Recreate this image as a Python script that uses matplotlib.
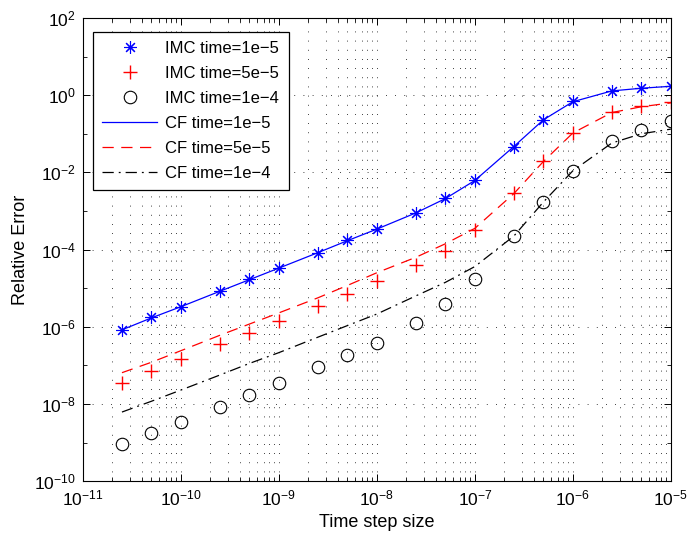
import numpy as np
import matplotlib
matplotlib.use("Agg")
import matplotlib.pyplot as plt
from matplotlib.ticker import LogLocator, NullFormatter, LogFormatterSciNotation

plt.rcParams['font.family'] = ['Liberation Sans', 'DejaVu Sans']
plt.rcParams['mathtext.fontset'] = 'custom'
plt.rcParams['mathtext.rm'] = 'Liberation Sans'
plt.rcParams['mathtext.it'] = 'Liberation Sans:italic'
plt.rcParams['mathtext.bf'] = 'Liberation Sans:bold'

# time step sizes
dt = [2.5e-11, 5e-11, 1e-10, 2.5e-10, 5e-10, 1e-9, 2.5e-9, 5e-9, 1e-8,
      2.5e-8, 5e-8, 1e-7, 2.5e-7, 5e-7, 1e-6, 2.5e-6, 5e-6, 1e-5]

# log10 of relative error
imc_1e5 = [-6.08, -5.76, -5.48, -5.07, -4.77, -4.48, -4.08, -3.76, -3.47,
           -3.04, -2.67, -2.21, -1.33, -0.64, -0.16, 0.12, 0.19, 0.24]
imc_5e5 = [-7.45, -7.14, -6.84, -6.45, -6.15, -5.84, -5.45, -5.15, -4.82,
           -4.40, -4.03, -3.49, -2.53, -1.70, -0.97, -0.44, -0.28, -0.17]
imc_1e4 = [-9.04, -8.76, -8.46, -8.07, -7.76, -7.45, -7.05, -6.73, -6.41,
           -5.91, -5.41, -4.75, -3.65, -2.77, -1.96, -1.20, -0.90, -0.67]

cf_1e5 = [-6.08, -5.77, -5.48, -5.08, -4.78, -4.48, -4.08, -3.77, -3.47,
          -3.05, -2.68, -2.21, -1.33, -0.64, -0.17, 0.11, 0.18, 0.23]
cf_5e5 = [-7.19, -6.92, -6.62, -6.22, -5.93, -5.64, -5.25, -4.93, -4.60,
          -4.20, -3.85, -3.45, -2.55, -1.72, -0.98, -0.45, -0.30, -0.20]
cf_1e4 = [-8.21, -7.93, -7.64, -7.25, -6.95, -6.67, -6.27, -5.97, -5.67,
          -5.20, -4.85, -4.44, -3.65, -2.77, -1.96, -1.24, -1.00, -0.88]

labels_imc = ['IMC time=1e\u22125', 'IMC time=5e\u22125', 'IMC time=1e\u22124']
labels_cf = ['CF time=1e\u22125', 'CF time=5e\u22125', 'CF time=1e\u22124']

fig = plt.figure(figsize=(6.88, 5.4), dpi=100)
ax = fig.add_axes([0.1206, 0.109, 0.8544, 0.8577])

x = np.array(dt)
ms = 9
ax.plot(x, 10 ** np.array(imc_1e5), linestyle='none', marker=(8, 2, 0),
        color='blue', markersize=ms, markeredgewidth=0.8, label=labels_imc[0])
ax.plot(x, 10 ** np.array(imc_5e5), linestyle='none', marker='+',
        color='#ff0000', markeredgecolor='#ff0000', markersize=ms + 1,
        markeredgewidth=1.0, label=labels_imc[1])
ax.plot(x, 10 ** np.array(imc_1e4), linestyle='none', marker='o',
        markerfacecolor='none', markeredgecolor='black', markersize=ms,
        markeredgewidth=0.8, label=labels_imc[2])

ax.plot(x, 10 ** np.array(cf_1e5), color='blue', linewidth=0.9, label=labels_cf[0])
ax.plot(x, 10 ** np.array(cf_5e5), color='red', linewidth=0.9,
        dashes=(9, 6), label=labels_cf[1])
ax.plot(x, 10 ** np.array(cf_1e4), color='black', linewidth=0.9,
        dashes=(9, 4, 1.5, 4), label=labels_cf[2])

ax.set_xscale('log')
ax.set_yscale('log')
ax.set_xlim(1e-11, 1e-5)
ax.set_ylim(1e-10, 1e2)

ax.xaxis.set_major_locator(LogLocator(base=10, numticks=20))
ax.xaxis.set_minor_locator(LogLocator(base=10, subs=np.arange(2, 10), numticks=20))
ax.xaxis.set_minor_formatter(NullFormatter())
ax.yaxis.set_major_locator(LogLocator(base=100, numticks=20))
ax.yaxis.set_major_formatter(LogFormatterSciNotation(base=10))
ax.yaxis.set_minor_locator(LogLocator(base=10, subs=[], numticks=20))
ax.yaxis.set_minor_formatter(NullFormatter())

dot = (0, (1, 10))
ax.grid(True, which='major', axis='both', color='black', linestyle=dot, linewidth=0.6)
ax.grid(True, which='minor', axis='x', color='black', linestyle=dot, linewidth=0.6)

ax.tick_params(which='both', direction='in', top=True, right=True, labelsize=12.5)
ax.tick_params(which='major', length=5, width=0.7, pad=5)
ax.tick_params(which='minor', length=3, width=0.6)
for s in ax.spines.values():
    s.set_linewidth(0.8)

ax.set_xlabel('Time step size', fontsize=13, labelpad=4)
ax.set_ylabel('Relative Error', fontsize=13, labelpad=4)

leg = ax.legend(loc='upper left', bbox_to_anchor=(0.017, 0.970), fontsize=12,
                fancybox=False, framealpha=1, edgecolor='black',
                handlelength=3.3, handletextpad=0.5, labelspacing=0.6,
                borderaxespad=0, borderpad=0.55)
leg.get_frame().set_linewidth(0.9)

fig.savefig('out.png', dpi=100)
